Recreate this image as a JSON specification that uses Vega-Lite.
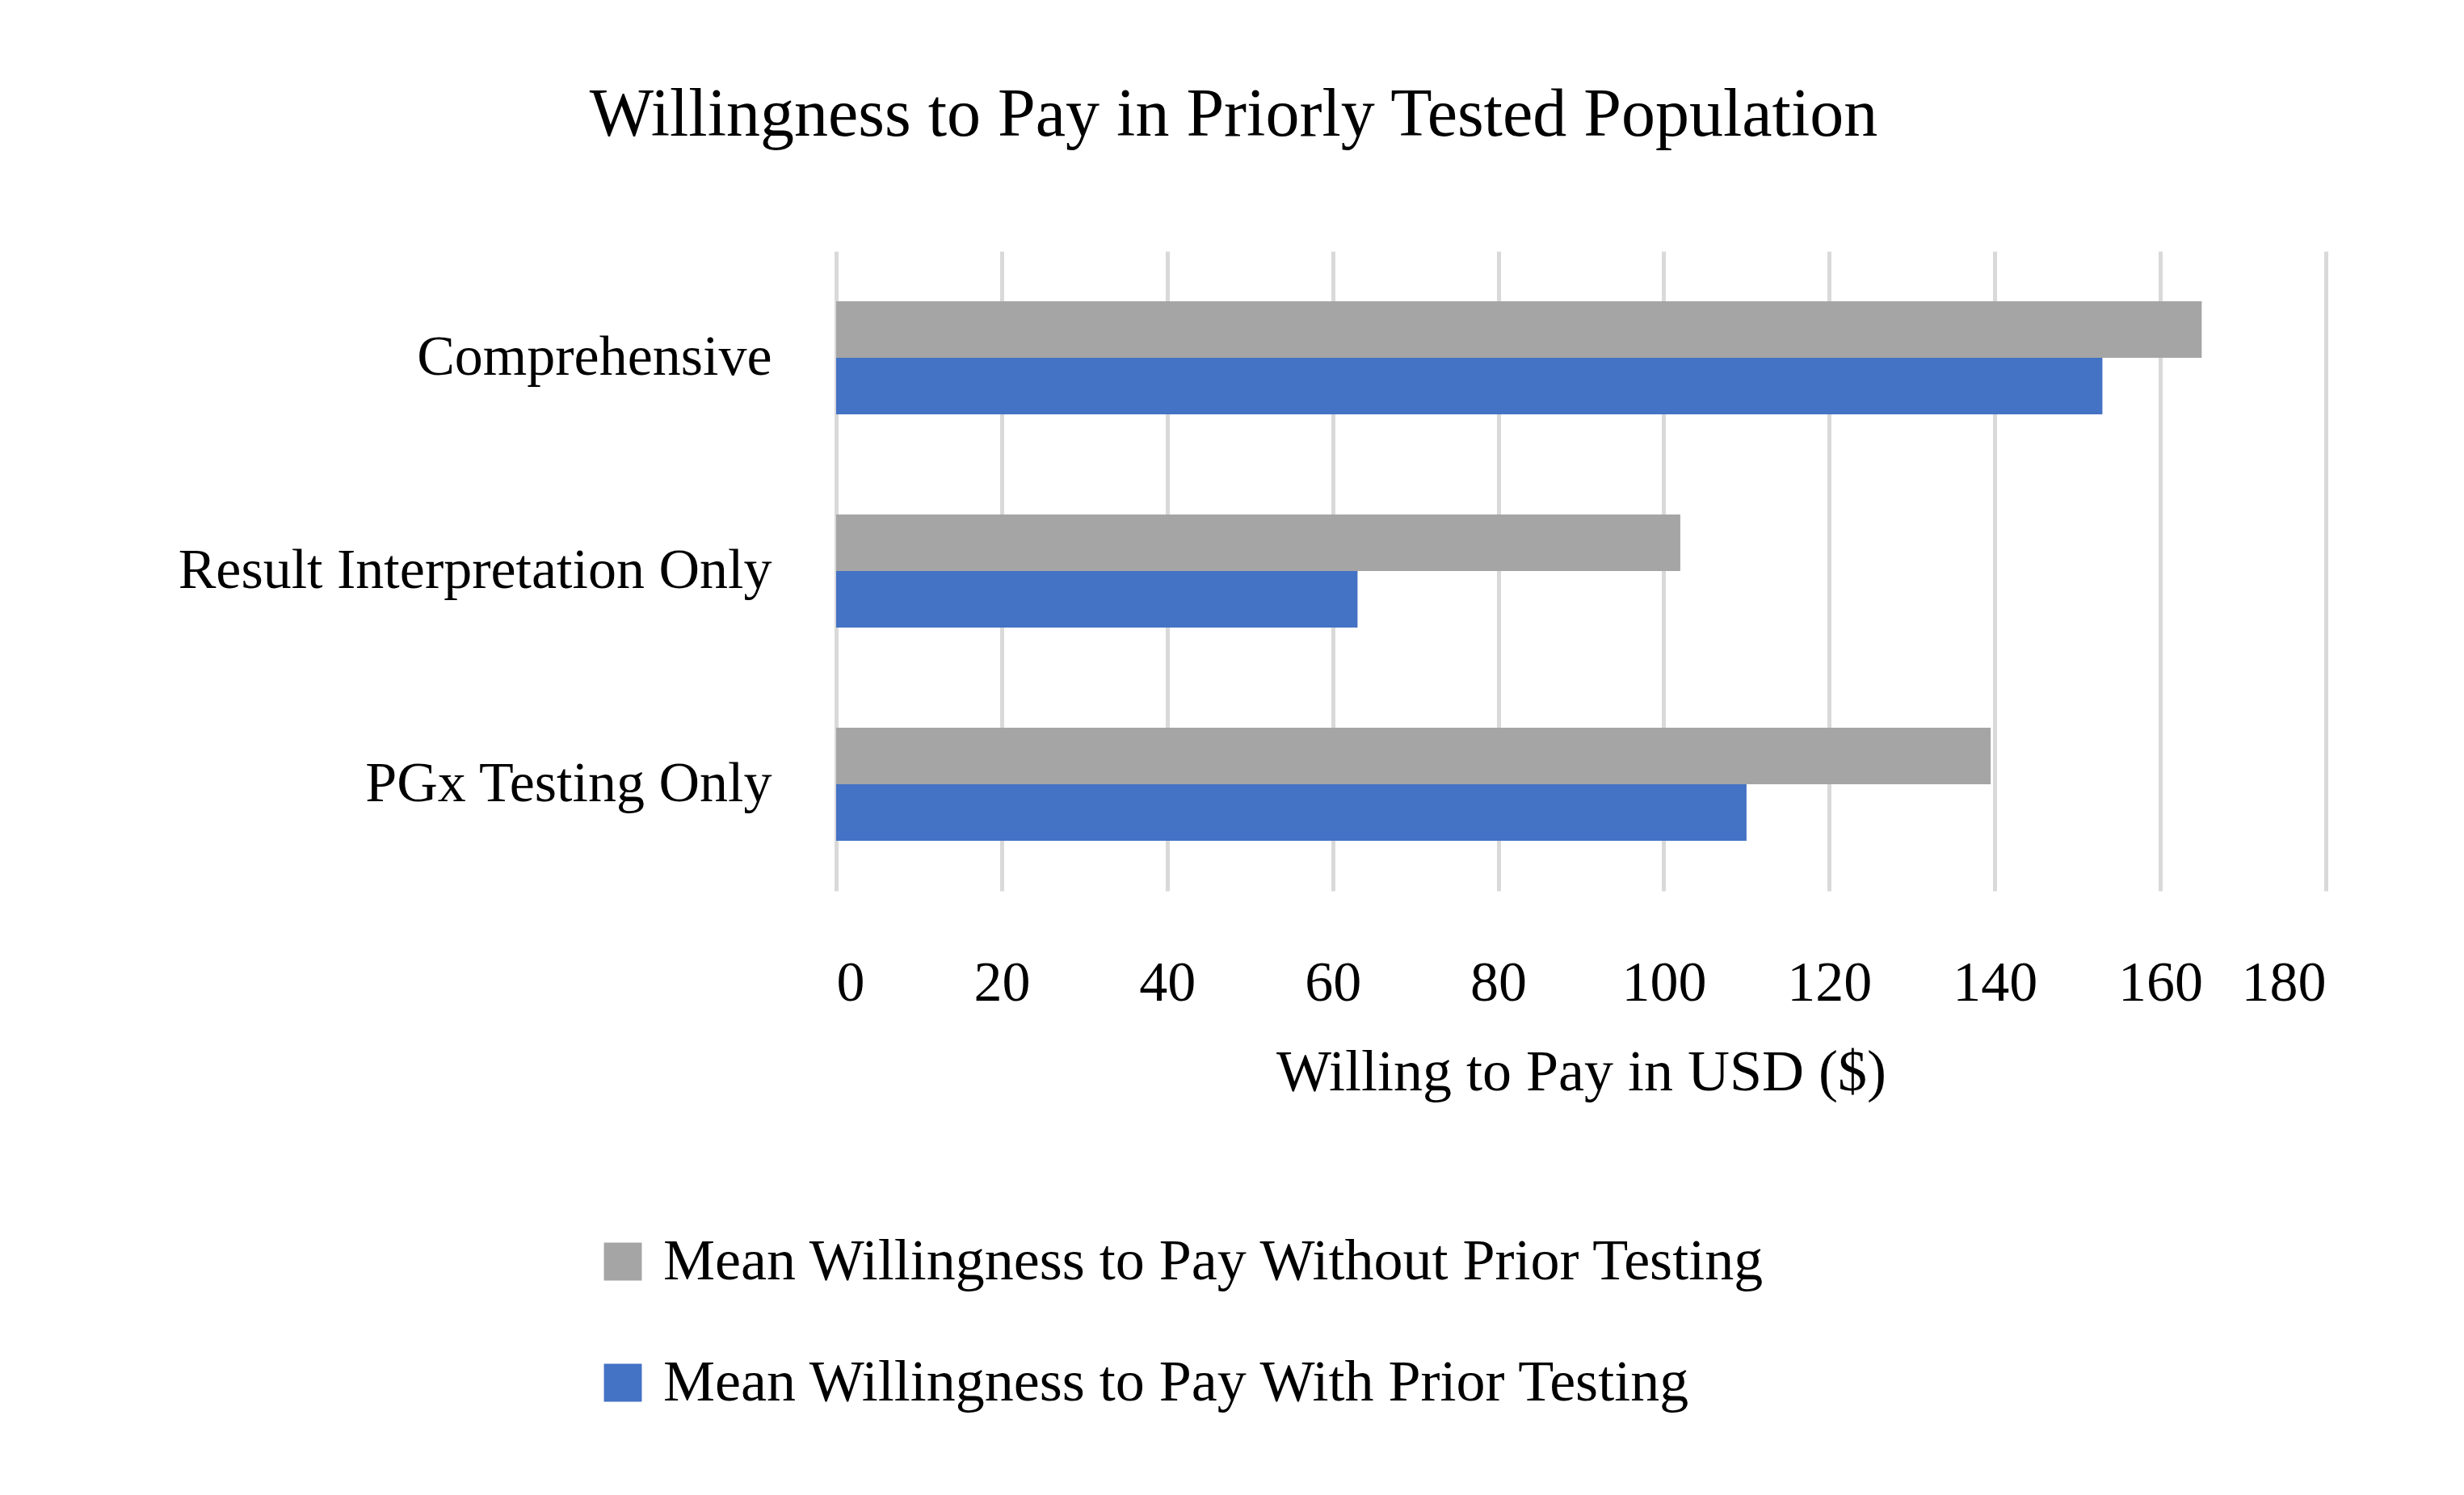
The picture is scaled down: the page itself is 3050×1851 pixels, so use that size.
{
  "$schema": "https://vega.github.io/schema/vega-lite/v6.json",
  "autosize": {"type": "none"},
  "width": 1844,
  "height": 792,
  "padding": {"left": 1035, "top": 311, "right": 171, "bottom": 748},
  "background": "white",
  "title": {"text": "Willingness to Pay in Priorly Tested Population", "font": "Liberation Serif", "fontSize": 84, "fontWeight": "normal", "color": "#000000", "anchor": "middle", "dx": -430, "offset": 125},
  "data": {"values": [
    {"cat": "Comprehensive", "series": "Mean Willingness to Pay Without Prior Testing", "v": 165},
    {"cat": "Comprehensive", "series": "Mean Willingness to Pay With Prior Testing", "v": 153},
    {"cat": "Result Interpretation Only", "series": "Mean Willingness to Pay Without Prior Testing", "v": 102},
    {"cat": "Result Interpretation Only", "series": "Mean Willingness to Pay With Prior Testing", "v": 63},
    {"cat": "PGx Testing Only", "series": "Mean Willingness to Pay Without Prior Testing", "v": 139.5},
    {"cat": "PGx Testing Only", "series": "Mean Willingness to Pay With Prior Testing", "v": 110}
  ]},
  "mark": {"type": "bar"},
  "encoding": {
    "y": {"field": "cat", "type": "nominal", "sort": ["Comprehensive", "Result Interpretation Only", "PGx Testing Only"],
      "scale": {"paddingInner": 0.47, "paddingOuter": 0.235},
      "axis": {"title": null, "domain": false, "ticks": false, "labelFont": "Liberation Serif", "labelFontSize": 70, "labelColor": "#000000", "labelPadding": 80, "labelLimit": 1000}},
    "yOffset": {"field": "series", "sort": ["Mean Willingness to Pay Without Prior Testing", "Mean Willingness to Pay With Prior Testing"]},
    "x": {"field": "v", "type": "quantitative", "scale": {"domain": [0, 180], "nice": false},
      "axis": {"title": "Willing to Pay in USD ($)", "values": [0,20,40,60,80,100,120,140,160,180], "domain": false, "ticks": false, "grid": true, "gridColor": "#D9D9D9", "gridWidth": 5, "labelFont": "Liberation Serif", "labelFontSize": 70, "labelColor": "#000000", "labelPadding": 80, "titleFont": "Liberation Serif", "titleFontSize": 72, "titleFontWeight": "normal", "titleColor": "#000000", "titlePadding": 40}},
    "color": {"field": "series", "type": "nominal", "sort": ["Mean Willingness to Pay Without Prior Testing", "Mean Willingness to Pay With Prior Testing"],
      "scale": {"range": ["#A5A5A5", "#4472C4"]},
      "legend": {"title": null, "orient": "none", "legendX": -300, "legendY": 1215, "direction": "vertical", "symbolType": "square", "symbolSize": 2200, "symbolStrokeWidth": 0, "labelFont": "Liberation Serif", "labelFontSize": 72, "labelColor": "#000000", "rowPadding": 78, "labelLimit": 2000, "labelOffset": 14}}
  },
  "config": {"view": {"stroke": null}}
}
